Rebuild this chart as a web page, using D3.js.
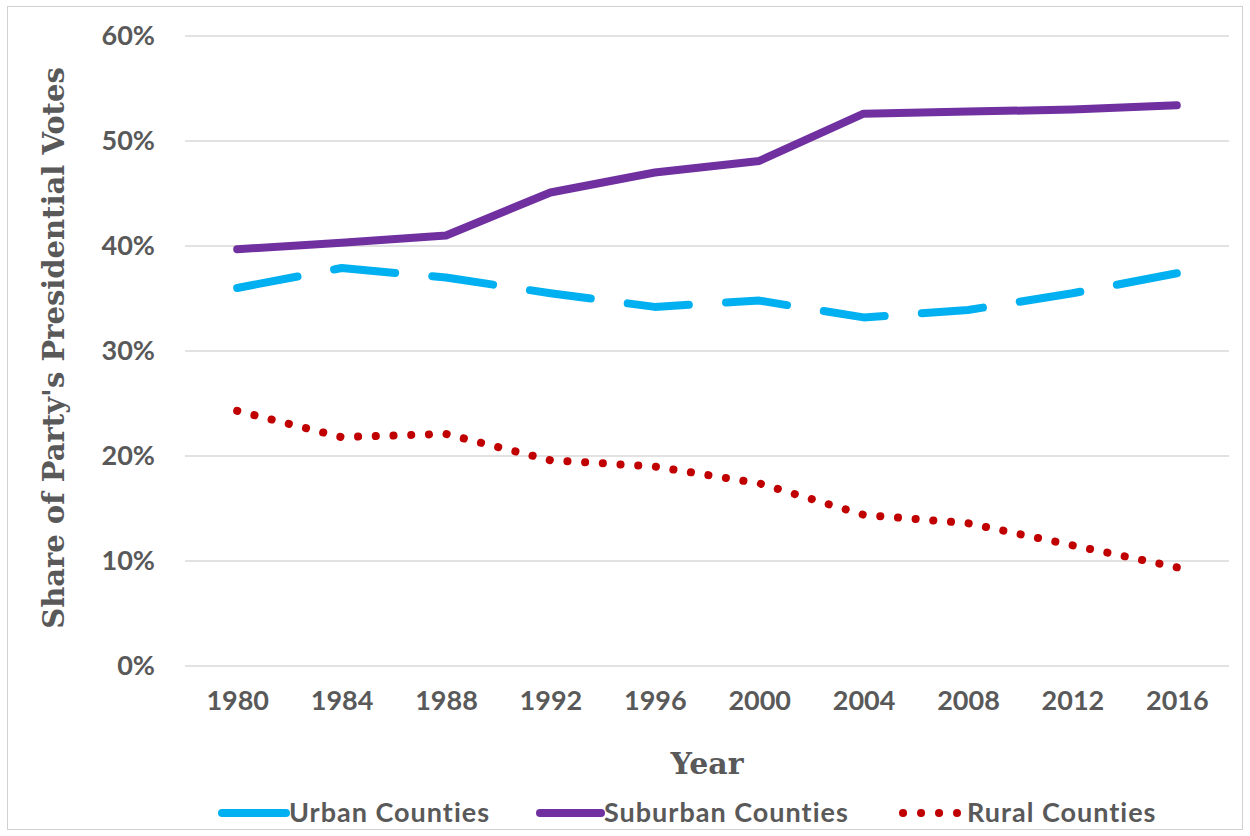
<!DOCTYPE html>
<html>
<head>
<meta charset="utf-8">
<script src="https://cdn.jsdelivr.net/npm/d3@7"></script>
<style>
  html, body { margin: 0; padding: 0; background: #fff; }
  svg { display: block; }
</style>
</head>
<body>
<svg id="chart" width="1250" height="836"></svg>
<script>
const years = ["1980","1984","1988","1992","1996","2000","2004","2008","2012","2016"];
const urban = [36.0, 37.9, 37.0, 35.5, 34.2, 34.8, 33.2, 33.9, 35.5, 37.4];
const suburban = [39.7, 40.3, 41.0, 45.1, 47.0, 48.1, 52.6, 52.8, 53.0, 53.4];
const rural = [24.3, 21.8, 22.1, 19.6, 19.0, 17.4, 14.4, 13.6, 11.5, 9.4];
const yTicks = [0, 10, 20, 30, 40, 50, 60];
const seriesNames = ["Urban Counties", "Suburban Counties", "Rural Counties"];

(function () {
const svg = d3.select("#chart");
const W = 1250, H = 836;
const pLeft = 185, pRight = 1229, pTop = 36, pBottom = 666;
const textColor = "#595959";
const sansFont = "Lato, 'Open Sans', sans-serif";
const serifFont = "'DejaVu Serif', 'Liberation Serif', serif";

// outer border
svg.append("rect").attr("x", 7.5).attr("y", 6.5).attr("width", W - 15).attr("height", H - 13)
  .attr("fill", "#fff").attr("stroke", "#d0d0d0").attr("stroke-width", 1);

const x = d3.scalePoint().domain(years).range([pLeft, pRight]).padding(0.5);
const y = d3.scaleLinear().domain([0, 60]).range([pBottom, pTop]);

// gridlines
svg.append("g").selectAll("line").data(yTicks).join("line")
  .attr("x1", pLeft).attr("x2", pRight)
  .attr("y1", d => y(d)).attr("y2", d => y(d))
  .attr("stroke", "#d9d9d9").attr("stroke-width", 1.5);

// y axis
const yAxis = svg.append("g").attr("transform", `translate(${pLeft},0)`)
  .call(d3.axisLeft(y).tickValues(yTicks).tickFormat(d => d + "%").tickSize(0).tickPadding(30));
yAxis.select(".domain").remove();
yAxis.selectAll("text").attr("fill", textColor).attr("font-family", sansFont)
  .attr("font-weight", "bold").attr("font-size", 27);

// x axis
const xAxis = svg.append("g").attr("transform", `translate(0,${pBottom})`)
  .call(d3.axisBottom(x).tickSize(0).tickPadding(25));
xAxis.select(".domain").remove();
xAxis.selectAll("text").attr("fill", textColor).attr("font-family", sansFont)
  .attr("font-weight", "bold").attr("font-size", 27);

// axis titles
svg.append("text").attr("x", (pLeft + pRight) / 2).attr("y", 774)
  .attr("text-anchor", "middle").attr("fill", textColor)
  .attr("font-family", serifFont).attr("font-weight", "bold").attr("font-size", 30)
  .text("Year");
svg.append("text").attr("transform", `translate(64,348) rotate(-90)`)
  .attr("text-anchor", "middle").attr("fill", textColor)
  .attr("font-family", serifFont).attr("font-weight", "bold").attr("font-size", 29)
  .text("Share of Party's Presidential Votes");

const styles = [
  { data: urban, color: "#00B0F0", dash: [61, 37] },
  { data: suburban, color: "#7030A0", dash: null },
  { data: rural, color: "#C00000", dash: [0.1, 17.6] }
];

const line = d3.line().x((d, i) => x(years[i])).y(d => y(d));

styles.forEach(s => {
  const p = svg.append("path").datum(s.data)
    .attr("d", line)
    .attr("fill", "none")
    .attr("stroke", s.color)
    .attr("stroke-width", 8)
    .attr("stroke-linecap", "round")
    .attr("stroke-linejoin", "round");
  if (s.dash) {
    // stretch pattern slightly so the line ends on a dash / dot
    const L = p.node().getTotalLength();
    const period = s.dash[0] + s.dash[1];
    const n = Math.round((L - s.dash[0]) / period);
    const k = (L - s.dash[0]) / (n * period);
    p.attr("stroke-dasharray", `${s.dash[0] * (s.dash[0] > 1 ? k : 1)},${s.dash[1] * k}`);
  }
});

// legend
const legendItems = [
  { name: seriesNames[0], x1: 222, x2: 286, tx: 289, style: styles[0] },
  { name: seriesNames[1], x1: 540, x2: 601, tx: 604, style: styles[1] },
  { name: seriesNames[2], x1: 903, x2: 957, tx: 967, style: styles[2] }
];
const ly = 813;
const lg = svg.append("g");
legendItems.forEach(it => {
  lg.append("line").attr("x1", it.x1).attr("x2", it.x2).attr("y1", ly).attr("y2", ly)
    .attr("stroke", it.style.color).attr("stroke-width", 8).attr("stroke-linecap", "round")
    .attr("stroke-dasharray", it.name === seriesNames[2] ? "0.1,17.9" : null);
  lg.append("text").attr("x", it.tx).attr("y", ly).attr("dy", "0.33em")
    .attr("fill", textColor).attr("font-family", sansFont).attr("font-weight", "bold")
    .attr("font-size", 27).attr("letter-spacing", 1).text(it.name);
});
})();
</script>
</body>
</html>
